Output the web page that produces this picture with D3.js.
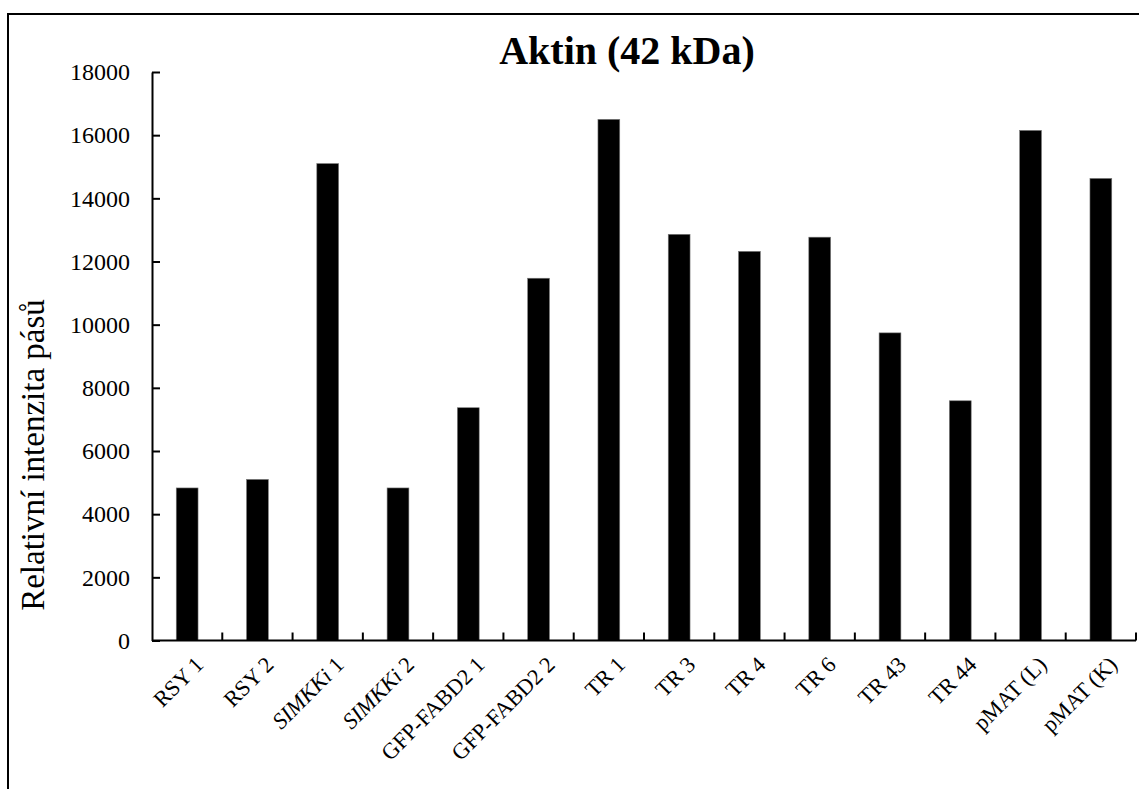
<!DOCTYPE html>
<html>
<head>
<meta charset="utf-8">
<script src="https://cdn.jsdelivr.net/npm/d3@7"></script>
<style>
  html, body { margin: 0; padding: 0; background: #fff; }
  svg { display: block; }
  text { font-family: "Liberation Serif", "Times New Roman", serif; fill: #000; }
</style>
</head>
<body>
<svg id="chart" width="1139" height="789"></svg>
<script>
const categories = ["RSY 1", "RSY 2", "SIMKKi 1", "SIMKKi 2", "GFP-FABD2 1", "GFP-FABD2 2",
  "TR 1", "TR 3", "TR 4", "TR 6", "TR 43", "TR 44", "pMAT (L)", "pMAT (K)"];
const values = [4830, 5100, 15100, 4830, 7370, 11470, 16500, 12860, 12320, 12770, 9740, 7590, 16150, 14630];
const yTicks = [0, 2000, 4000, 6000, 8000, 10000, 12000, 14000, 16000, 18000];
const italicWords = ["SIMKKi"];
const chartTitle = "Aktin (42 kDa)";
const yTitle = "Relativní intenzita pásů";

(function () {
const svg = d3.select("#chart");
const mLeft = 152, mRight = 1136, mTop = 72, mBottom = 640.5;

// outer frame (only top and left edges visible in the reference)
svg.append("path")
  .attr("d", "M8,789V14H1139")
  .attr("fill", "none").attr("stroke", "#000").attr("stroke-width", 2);

const x = d3.scaleBand().domain(categories).range([mLeft, mRight])
  .paddingInner(0.69).paddingOuter(0.345);
const y = d3.scaleLinear().domain([0, 18000]).range([mBottom, mTop]);

// bars
svg.append("g").selectAll("rect").data(categories).join("rect")
  .attr("x", d => x(d))
  .attr("width", x.bandwidth())
  .attr("y", (d, i) => y(values[i]))
  .attr("height", (d, i) => y(0) - y(values[i]))
  .attr("fill", "#000")
  .attr("stroke", "#777").attr("stroke-width", 0.6);

// y axis
const yAxis = svg.append("g").attr("transform", `translate(${mLeft},0)`)
  .call(d3.axisLeft(y).tickValues(yTicks).tickFormat(d3.format("d"))
    .tickSizeInner(-8).tickSizeOuter(0).tickPadding(22));
yAxis.select(".domain").attr("stroke-width", 2);
yAxis.selectAll(".tick line").attr("stroke-width", 2);
yAxis.selectAll(".tick text").attr("font-size", 24).attr("font-family", "Liberation Serif");

// x axis baseline
const xAxis = svg.append("g").attr("transform", `translate(0,${mBottom})`)
  .call(d3.axisBottom(x).tickValues([]).tickSizeOuter(0));
xAxis.select(".domain").attr("stroke-width", 2).attr("d", `M${mLeft},0H${mRight}`);

// x ticks at category boundaries, pointing up
const boundaries = d3.range(1, categories.length + 1).map(i => mLeft + i * x.step());
svg.append("g").selectAll("line").data(boundaries).join("line")
  .attr("x1", d => d).attr("x2", d => d)
  .attr("y1", mBottom).attr("y2", mBottom - 8)
  .attr("stroke", "#000").attr("stroke-width", 2);

// x labels rotated -45
const lab = svg.append("g").selectAll("text").data(categories).join("text")
  .attr("transform", d => `translate(${x(d) + x.bandwidth() / 2 + 12},${mBottom + 20}) rotate(-45)`)
  .attr("text-anchor", "end")
  .attr("dy", "0.35em")
  .attr("font-size", 22.5);
lab.each(function (d) {
  const t = d3.select(this);
  const first = d.split(" ")[0];
  const rest = d.slice(first.length);
  t.append("tspan").text(first).attr("font-style", italicWords.includes(first) ? "italic" : "normal");
  t.append("tspan").text(rest).style("white-space", "pre");
});

// title
svg.append("text")
  .attr("x", 627).attr("y", 64)
  .attr("text-anchor", "middle")
  .attr("font-size", 40).attr("font-weight", "bold")
  .style("white-space", "pre")
  .text(chartTitle);

// y title
svg.append("text")
  .attr("transform", `translate(44,455) rotate(-90)`)
  .attr("text-anchor", "middle")
  .attr("font-size", 33)
  .text(yTitle);
})();
</script>
</body>
</html>
